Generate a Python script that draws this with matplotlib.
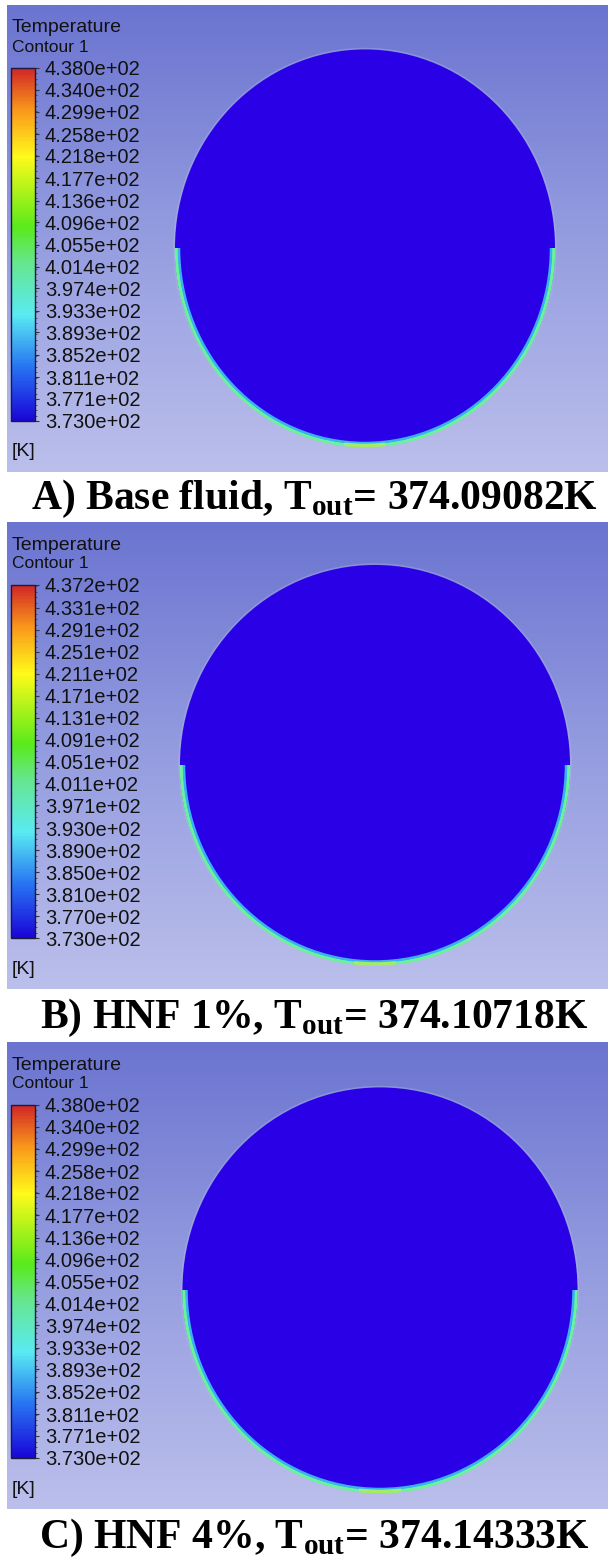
import numpy as np
import matplotlib
import matplotlib.pyplot as plt
from matplotlib.colors import LinearSegmentedColormap, Normalize
from matplotlib.cm import ScalarMappable
from matplotlib.patches import Ellipse, Arc
from matplotlib.ticker import MultipleLocator

matplotlib.rcParams['mathtext.fontset'] = 'custom'
matplotlib.rcParams['mathtext.rm'] = 'Liberation Serif'
matplotlib.rcParams['mathtext.bf'] = 'Liberation Serif:bold'

# contour legend ranges (K) and labels for each case
case_tag = ['A)', 'B)', 'C)']
case_name = ['Base fluid', 'HNF 1%', 'HNF 4%']
t_out = [374.09082, 374.10718, 374.14333]
t_min = [373.0, 373.0, 373.0]
t_max = [438.0, 437.2, 438.0]

ticks_a = [438.0, 434.0, 429.9, 425.8, 421.8, 417.7, 413.6, 409.6, 405.5,
           401.4, 397.4, 393.3, 389.3, 385.2, 381.1, 377.1, 373.0]
ticks_b = [437.2, 433.1, 429.1, 425.1, 421.1, 417.1, 413.1, 409.1, 405.1,
           401.1, 397.1, 393.0, 389.0, 385.0, 381.0, 377.0, 373.0]
ticks_c = ticks_a
case_ticks = [ticks_a, ticks_b, ticks_c]

W, H = 608, 1562
panel_top = [5, 522, 1042]
panel_h = 467
panel_x0 = 7
# pipe cross-section: centre x, centre offset from panel top, width, height
pipe = [(365, 243, 380, 397), (375, 243, 390, 400), (380, 248, 395, 405)]

fluent = LinearSegmentedColormap.from_list('fluent', [
    (0.00, (0.10, 0.02, 0.85)),
    (0.15, (0.15, 0.45, 0.95)),
    (0.30, (0.35, 0.92, 0.95)),
    (0.45, (0.40, 0.90, 0.55)),
    (0.55, (0.35, 0.92, 0.10)),
    (0.75, (1.00, 0.98, 0.10)),
    (0.88, (0.98, 0.60, 0.10)),
    (1.00, (0.82, 0.15, 0.15))])
bg = LinearSegmentedColormap.from_list('bg', ['#6b74d0', '#959de0', '#bbbfeb'])

fig = plt.figure(figsize=(W / 100, H / 100), dpi=100)
ax = fig.add_axes([0, 0, 1, 1])
ax.set_xlim(0, W)
ax.set_ylim(H, 0)
ax.axis('off')

grad = np.linspace(0, 1, 256).reshape(-1, 1)

for i in range(3):
    top = panel_top[i]
    bot = top + panel_h
    ax.imshow(grad, extent=(panel_x0, W, bot, top), cmap=bg, aspect='auto',
              interpolation='bilinear', zorder=0)

    # pipe section, nearly all at the minimum temperature
    cx, cy, pw, ph = pipe[i]
    cy += top
    ax.add_patch(Ellipse((cx, cy), pw + 2, ph + 2, fc='none', ec='#b4bcec',
                         lw=1.0, alpha=0.35, zorder=1))
    ax.add_patch(Ellipse((cx, cy), pw, ph, fc='#2a00e6', ec='none', zorder=2))
    # heated wall layer along the lower half
    ax.add_patch(Arc((cx, cy), pw - 3, ph - 2, theta1=0, theta2=180,
                     color='#6cf29a', lw=2.6, zorder=3))
    ax.add_patch(Arc((cx, cy), pw - 8, ph - 7, theta1=0, theta2=180,
                     color='#3ab0f6', lw=1.8, zorder=3))
    ax.add_patch(Arc((cx, cy), pw - 3, ph - 2, theta1=84, theta2=96,
                     color='#a6ea6a', lw=2.6, zorder=4))

    # legend header
    ax.text(12, top + 23, 'Temperature', fontsize=14, family='Liberation Sans',
            va='center', ha='left', color='#111111')
    ax.text(12, top + 42, 'Contour 1', fontsize=12.5, family='Liberation Sans',
            va='center', ha='left', color='#111111')
    ax.text(12, top + 447, '[K]', fontsize=14, family='Liberation Sans',
            va='center', ha='left', color='#111111')

    # colour bar
    cb_top, cb_bot = top + 63, top + 416
    cax = fig.add_axes([11 / W, 1 - cb_bot / H, 24 / W, (cb_bot - cb_top) / H])
    sm = ScalarMappable(norm=Normalize(t_min[i], t_max[i]), cmap=fluent)
    cb = fig.colorbar(sm, cax=cax, ticks=case_ticks[i])
    cb.ax.set_yticklabels(['{:.3e}'.format(t) for t in case_ticks[i]])
    cb.ax.yaxis.set_minor_locator(MultipleLocator(1.0))
    cb.ax.tick_params(which='major', length=3, width=0.8, color='#333333',
                      pad=4, labelsize=14.5, labelcolor='#111111')
    cb.ax.tick_params(which='minor', length=1.5, width=0.6, color='#444444')
    for lbl in cb.ax.get_yticklabels():
        lbl.set_family('Liberation Sans')
    cb.outline.set_edgecolor('#1a1a3a')
    cb.outline.set_linewidth(1.0)

    # caption under the panel
    gap_next = panel_top[i + 1] if i < 2 else H
    cap_y = (bot + gap_next) / 2 + 2
    cap = (case_tag[i] + ' ' + case_name[i] + r', $\mathbf{T}_{\mathbf{out}}$= '
           + '{:.5f}K'.format(t_out[i]))
    ax.text(314, cap_y, cap, fontsize=30, family='Liberation Serif',
            fontweight='bold', ha='center', va='center', color='black')

fig.savefig('out.png', dpi=100)
